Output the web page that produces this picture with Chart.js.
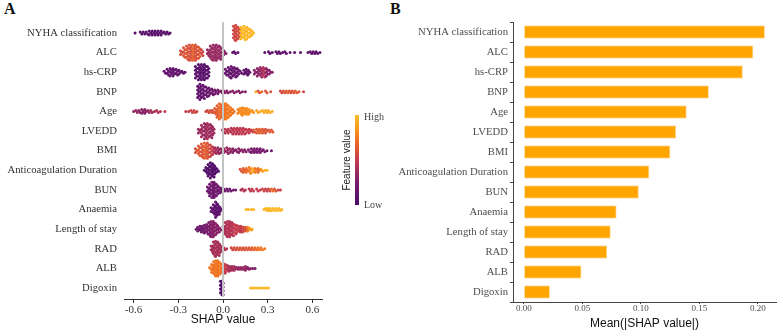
<!DOCTYPE html>
<html>
<head>
<meta charset="utf-8">
<script src="https://cdn.jsdelivr.net/npm/chart.js@4.4.0/dist/chart.umd.min.js"></script>
<style>
  body { margin: 0; background: #fff; width: 778px; height: 331px; overflow: hidden; position: relative; }
  canvas { position: absolute; top: 0; }
  .tag { position: absolute; top: 0; font: bold 16px "Liberation Serif", serif; color: #111; }
</style>
</head>
<body>
<div class="tag" style="left:4px">A</div>
<div class="tag" style="left:390px">B</div>
<canvas id="panelA" width="400" height="331" style="left:0"></canvas>
<canvas id="panelB" width="398" height="331" style="left:380px"></canvas>
<script>
// feature order, top to bottom
const features = ['NYHA classification', 'ALC', 'hs-CRP', 'BNP', 'Age', 'LVEDD', 'BMI',
  'Anticoagulation Duration', 'BUN', 'Anaemia', 'Length of stay', 'RAD', 'ALB', 'Digoxin'];

// panel B: mean(|SHAP|)
const meanAbsShap = [0.206, 0.196, 0.187, 0.158, 0.139, 0.130, 0.125, 0.107, 0.098, 0.079, 0.074, 0.071, 0.049, 0.022];

const shapTicks = [-0.6, -0.3, 0.0, 0.3, 0.6];
const meanTicks = [0.00, 0.05, 0.10, 0.15, 0.20];

// panel A: beeswarm bins, [shap value, number of dots, feature value 0..1]
const swarmNYHA = [[-0.59,1,0.05],[-0.55,2,0.08],[-0.53,2,0.08],[-0.51,2,0.08],[-0.49,3,0.08],[-0.47,3,0.08],[-0.45,3,0.08],
  [-0.43,3,0.08],[-0.41,3,0.08],[-0.39,2,0.08],[-0.37,2,0.08],[-0.355,1,0.08],
  [0.075,8,0.55],[0.09,9,0.55],[0.105,7,0.58],[0.125,7,0.98],[0.145,8,0.98],[0.165,7,0.98],[0.185,5,0.98],[0.2,3,0.98]];
const swarmALC = [[-0.28,3,0.58],[-0.26,6,0.6],[-0.24,8,0.62],[-0.22,9,0.58],[-0.2,9,0.66],[-0.18,9,0.58],[-0.16,7,0.62],[-0.14,4,0.55],
  [-0.1,4,0.35],[-0.08,8,0.36],[-0.06,9,0.35],[-0.04,9,0.36],[-0.02,8,0.34],[0.0,5,0.33],[0.015,2,0.3],
  [0.065,1,0.12],[0.08,2,0.12],[0.1,1,0.12],[0.28,1,0.12],[0.31,2,0.12],[0.33,1,0.12],[0.36,2,0.12],[0.38,2,0.15],[0.4,1,0.12],
  [0.42,2,0.12],[0.45,1,0.12],[0.48,1,0.12],[0.52,1,0.12],[0.57,1,0.12],[0.59,2,0.12],[0.61,2,0.15],[0.63,2,0.12],[0.65,1,0.12]];
const swarmCRP = [[-0.39,2,0.12],[-0.37,4,0.12],[-0.35,5,0.15],[-0.33,5,0.12],[-0.31,4,0.15],[-0.29,3,0.12],[-0.27,2,0.12],[-0.255,1,0.12],
  [-0.18,7,0.08],[-0.16,9,0.08],[-0.14,9,0.1],[-0.12,9,0.08],[-0.1,7,0.08],
  [0.02,4,0.15],[0.04,6,0.15],[0.06,7,0.15],[0.08,6,0.15],[0.1,5,0.15],[0.12,2,0.15],
  [0.145,3,0.12],[0.16,4,0.12],[0.175,3,0.12],
  [0.215,3,0.3],[0.235,5,0.3],[0.255,6,0.35],[0.275,6,0.45],[0.295,5,0.3],[0.315,3,0.3],[0.33,1,0.3]];
const swarmBNP = [[-0.165,7,0.12],[-0.15,9,0.12],[-0.13,8,0.15],[-0.11,6,0.15],[-0.09,5,0.18],[-0.07,4,0.2],[-0.05,3,0.22],[-0.03,3,0.25],
  [-0.01,2,0.28],[0.01,2,0.3],[0.03,2,0.3],[0.05,1,0.3],[0.07,2,0.3],[0.09,1,0.3],[0.11,2,0.3],[0.13,1,0.3],[0.15,1,0.3],
  [0.22,1,0.95],[0.24,2,0.6],[0.26,1,0.7],[0.29,2,0.6],[0.32,1,0.6],
  [0.39,2,0.55],[0.41,2,0.6],[0.43,2,0.65],[0.45,2,0.6],[0.47,2,0.6],[0.49,2,0.65],[0.51,1,0.6],[0.54,1,0.55]];
const swarmAge = [[-0.6,1,0.35],[-0.58,2,0.35],[-0.56,2,0.3],[-0.54,3,0.3],[-0.52,3,0.3],[-0.5,2,0.35],[-0.48,2,0.4],[-0.46,1,0.4],
  [-0.44,2,0.45],[-0.42,1,0.45],[-0.39,1,0.5],
  [-0.25,1,0.5],[-0.23,1,0.5],[-0.21,2,0.55],[-0.19,2,0.55],[-0.175,1,0.55],
  [-0.115,1,0.55],[-0.1,2,0.55],[-0.08,2,0.6],[-0.065,2,0.6],
  [-0.05,4,0.62],[-0.035,7,0.65],[-0.02,9,0.68],[-0.005,8,0.68],[0.01,9,0.72],[0.025,9,0.75],[0.04,7,0.75],[0.055,5,0.75],[0.07,3,0.75],
  [0.105,3,0.78],[0.12,4,0.8],[0.135,5,0.8],[0.15,4,0.8],[0.165,4,0.82],[0.18,3,0.82],[0.2,2,0.82],
  [0.23,2,0.9],[0.25,1,0.9],[0.27,2,0.92],[0.29,2,0.92],[0.31,2,0.92],[0.33,1,0.92]];
const swarmLVEDD = [[-0.16,3,0.35],[-0.14,7,0.38],[-0.12,9,0.35],[-0.1,9,0.4],[-0.08,8,0.35],[-0.065,5,0.38],
  [0.0,2,0.45],[0.02,3,0.45],[0.04,3,0.48],[0.06,4,0.45],[0.08,4,0.5],[0.1,4,0.45],[0.12,4,0.5],[0.14,4,0.48],[0.16,3,0.5],[0.18,3,0.5],[0.195,2,0.5],
  [0.21,2,0.62],[0.23,3,0.62],[0.25,3,0.65],[0.27,3,0.62],[0.29,3,0.6],[0.31,2,0.62],[0.33,2,0.62]];
const swarmBMI = [[-0.18,3,0.6],[-0.16,6,0.62],[-0.14,8,0.6],[-0.12,9,0.65],[-0.1,9,0.6],[-0.08,7,0.55],[-0.065,5,0.5],
  [-0.05,4,0.4],[-0.03,4,0.35],[-0.01,3,0.35],[0.01,3,0.35],[0.03,4,0.35],[0.05,3,0.35],[0.07,3,0.3],[0.09,2,0.3],[0.11,3,0.3],[0.13,2,0.3],[0.15,2,0.3],
  [0.175,2,0.25],[0.195,3,0.25],[0.215,3,0.25],[0.235,3,0.25],[0.255,3,0.25],[0.275,2,0.25],[0.295,1,0.2],[0.325,1,0.2]];
const swarmAnticoag = [[-0.125,1,0.05],[-0.11,4,0.05],[-0.095,7,0.05],[-0.08,9,0.05],[-0.065,8,0.05],[-0.05,5,0.05],[-0.035,2,0.05],
  [0.12,2,0.6],[0.14,3,0.65],[0.16,3,0.7],[0.18,4,0.75],[0.2,3,0.9],[0.22,3,0.75],[0.24,3,0.7],[0.26,2,0.85],[0.28,1,0.95],[0.295,1,0.95]];
const swarmBUN = [[-0.1,4,0.2],[-0.085,7,0.2],[-0.07,9,0.22],[-0.055,9,0.2],[-0.04,7,0.2],[-0.025,4,0.2],[-0.01,3,0.2],
  [0.01,2,0.2],[0.03,2,0.2],[0.05,2,0.2],[0.07,1,0.2],[0.085,1,0.2],
  [0.12,1,0.4],[0.135,2,0.45],[0.15,1,0.45],[0.18,2,0.45],[0.2,2,0.5],[0.23,2,0.5],[0.25,1,0.5],[0.27,2,0.55],[0.29,2,0.5],
  [0.31,2,0.55],[0.33,2,0.7],[0.35,2,0.6],[0.37,1,0.55],[0.385,1,0.5]];
const swarmAnaemia = [[-0.075,3,0.1],[-0.06,6,0.1],[-0.045,9,0.1],[-0.03,6,0.1],[-0.015,3,0.1],[-0.005,1,0.1],
  [0.155,1,0.98],[0.17,1,0.98],[0.19,1,0.98],[0.205,1,0.98],
  [0.275,1,0.98],[0.29,2,0.98],[0.305,2,0.98],[0.32,2,0.98],[0.34,2,0.98],[0.36,2,0.98],[0.38,2,0.98],[0.395,1,0.98]];
const swarmStay = [[-0.18,1,0.2],[-0.165,3,0.2],[-0.15,4,0.2],[-0.135,4,0.2],[-0.12,5,0.22],[-0.105,6,0.25],[-0.09,8,0.25],
  [-0.075,9,0.3],[-0.06,9,0.3],[-0.045,7,0.3],[-0.03,4,0.3],[-0.018,2,0.3],
  [0.005,4,0.4],[0.02,8,0.42],[0.035,9,0.45],[0.05,9,0.45],[0.065,8,0.45],[0.08,6,0.5],[0.095,5,0.5],[0.11,4,0.5],[0.125,4,0.5],
  [0.14,3,0.55],[0.155,3,0.6],[0.17,3,0.75],[0.185,2,0.88],[0.195,1,0.88]];
const swarmRAD = [[-0.075,4,0.4],[-0.06,8,0.4],[-0.045,9,0.42],[-0.03,8,0.4],[-0.015,5,0.4],[-0.005,3,0.4],
  [0.01,2,0.45],[0.025,1,0.45],
  [0.06,2,0.55],[0.08,2,0.58],[0.1,2,0.6],[0.12,2,0.6],[0.14,2,0.6],[0.16,2,0.62],[0.18,2,0.62],[0.2,2,0.65],[0.22,2,0.7],[0.24,2,0.72],[0.26,2,0.75],[0.28,1,0.75]];
const swarmALB = [[-0.085,2,0.75],[-0.072,5,0.75],[-0.058,8,0.72],[-0.044,9,0.75],[-0.03,9,0.72],[-0.016,7,0.75],[-0.004,5,0.7],
  [0.008,6,0.55],[0.02,5,0.5],[0.035,4,0.45],
  [0.05,3,0.4],[0.065,3,0.4],[0.08,3,0.38],[0.095,2,0.35],[0.11,2,0.35],[0.125,2,0.35],[0.14,2,0.35],[0.155,3,0.35],[0.17,2,0.3],[0.185,1,0.3],[0.2,1,0.3],[0.215,1,0.25]];
const swarmDigoxin = [[-0.012,8,0.05],[-0.004,8,0.05],
  [0.185,1,0.98],[0.2,1,0.98],[0.215,1,0.98],[0.23,1,0.98],[0.245,1,0.98],[0.26,1,0.98],[0.275,1,0.98],[0.29,1,0.98],[0.305,1,0.98]];

const swarmRows = [swarmNYHA, swarmALC, swarmCRP, swarmBNP, swarmAge, swarmLVEDD, swarmBMI,
  swarmAnticoag, swarmBUN, swarmAnaemia, swarmStay, swarmRAD, swarmALB, swarmDigoxin];

// colour scale, low -> high
const colorStops = [[0, [74, 12, 107]], [0.25, [120, 28, 109]], [0.5, [196, 60, 78]], [0.7, [237, 105, 37]], [0.85, [249, 154, 28]], [1, [252, 188, 40]]];
function featureColor(t) {
  for (let i = 1; i < colorStops.length; i++) {
    if (t <= colorStops[i][0]) {
      const [t0, c0] = colorStops[i - 1], [t1, c1] = colorStops[i];
      const f = (t - t0) / (t1 - t0);
      return 'rgb(' + c0.map((c, k) => Math.round(c + (c1[k] - c) * f)).join(',') + ')';
    }
  }
  return 'rgb(' + colorStops[colorStops.length - 1][1].join(',') + ')';
}

// stack the dots of each bin around its row (alternate dots nudged sideways so the swarm packs)
const dotStep = 0.097;
const nudge = 0.005;
let points = [], pointColors = [];
swarmRows.forEach((bins, row) => {
  bins.forEach(([v, n, c]) => {
    for (let k = 0; k < n; k++) {
      const side = n > 1 ? (k % 2 ? nudge : -nudge) : 0;
      points.push({x: v + side, y: row + (k - (n - 1) / 2) * dotStep});
      pointColors.push(featureColor(c));
    }
  });
});

const serif = 'Liberation Serif';
const sans = 'Liberation Sans';
const labelSize = 10.7;

const colorBar = {
  id: 'colorBar',
  afterDraw(chart) {
    const ctx = chart.ctx;
    const g = ctx.createLinearGradient(0, 115, 0, 205);
    colorStops.forEach(([t]) => g.addColorStop(1 - t, featureColor(t)));
    ctx.save();
    ctx.fillStyle = g;
    ctx.fillRect(355, 115, 4, 90);
    ctx.fillStyle = '#444';
    ctx.font = '10px ' + serif;
    ctx.textBaseline = 'middle';
    ctx.textAlign = 'left';
    ctx.fillText('High', 364, 117);
    ctx.fillText('Low', 364, 205);
    ctx.translate(347, 160);
    ctx.rotate(-Math.PI / 2);
    ctx.textAlign = 'center';
    ctx.fillStyle = '#222';
    ctx.font = '10px ' + sans;
    ctx.fillText('Feature value', 0, 0);
    ctx.restore();
  }
};

new Chart(document.getElementById('panelA'), {
  type: 'scatter',
  data: {
    datasets: [
      {
        type: 'line',
        data: [{x: 0, y: -0.56}, {x: 0, y: 13.45}],
        borderColor: '#c4c4c4',
        borderWidth: 2,
        pointRadius: 0
      },
      {
        data: points,
        pointBackgroundColor: pointColors,
        pointBorderWidth: 0,
        pointRadius: 1.5
      }
    ]
  },
  options: {
    responsive: false,
    animation: false,
    layout: {padding: {top: 22, right: 78, left: 0, bottom: 0}},
    plugins: {legend: {display: false}, tooltip: {enabled: false}},
    scales: {
      x: {
        type: 'linear', min: -0.664, max: 0.664,
        afterBuildTicks: s => { s.ticks = shapTicks.map(v => ({value: v})); },
        afterFit: s => { s.height = 32; },
        ticks: {callback: v => v.toFixed(1), font: {family: serif, size: 11}, color: '#333', padding: 1, maxRotation: 0},
        grid: {display: true, drawOnChartArea: false, tickLength: 4, color: '#333'},
        border: {display: true, color: '#333', width: 1},
        title: {display: true, text: 'SHAP value', font: {family: sans, size: 12}, color: '#111', padding: {top: 0, bottom: 4}}
      },
      y: {
        type: 'linear', reverse: true, min: -0.56, max: 13.56,
        afterBuildTicks: s => { s.ticks = features.map((f, i) => ({value: i})); },
        afterFit: s => { s.width = 124; },
        ticks: {callback: v => features[v], font: {family: serif, size: labelSize}, color: '#333', padding: 7},
        grid: {display: false, drawTicks: false},
        border: {display: false}
      }
    }
  },
  plugins: [colorBar]
});

new Chart(document.getElementById('panelB'), {
  type: 'bar',
  data: {
    labels: features,
    datasets: [{
      data: meanAbsShap,
      backgroundColor: '#FFA500',
      borderColor: '#ffe2b0',
      borderWidth: 1,
      barThickness: 13
    }]
  },
  options: {
    indexAxis: 'y',
    responsive: false,
    animation: false,
    layout: {padding: {top: 22, right: 2, left: 0, bottom: 0}},
    plugins: {legend: {display: false}, tooltip: {enabled: false}},
    scales: {
      x: {
        type: 'linear', min: -0.0094, max: 0.2156,
        afterBuildTicks: s => { s.ticks = meanTicks.map(v => ({value: v})); },
        afterFit: s => { s.height = 29; },
        ticks: {callback: v => v.toFixed(2), font: {family: serif, size: 9}, color: '#4d4d4d', padding: -1, maxRotation: 0},
        grid: {display: true, drawOnChartArea: false, tickLength: 2, color: '#444'},
        border: {display: true, color: '#444', width: 1},
        title: {display: true, text: 'Mean(|SHAP value|)', font: {family: sans, size: 12}, color: '#111', padding: {top: 0, bottom: 0}}
      },
      y: {
        afterFit: s => { s.width = 133; },
        ticks: {font: {family: serif, size: labelSize}, color: '#4d4d4d', padding: 2},
        grid: {display: true, drawOnChartArea: false, tickLength: 3, color: '#444'},
        border: {display: true, color: '#444', width: 1}
      }
    }
  }
});
</script>
</body>
</html>
